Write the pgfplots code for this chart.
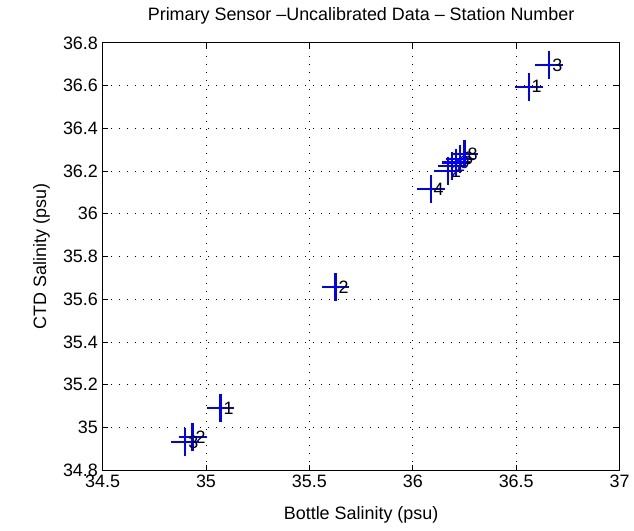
\documentclass[border=0pt]{standalone}
\usepackage{pgfplots}
\pgfplotsset{compat=1.18}
\usepackage{pgfplotstable}
\usepackage{fontspec}
\setmainfont{Liberation Sans}

\pgfplotstableread{
x y label
36.56 36.595 1
36.66 36.695 3
36.086 36.115 4
36.17 36.20 2
36.19 36.225 1
36.21 36.24 0
36.228 36.258 6
36.25 36.28 8
35.626 35.656 2
35.07 35.09 1
34.935 34.955 2
34.90 34.932 3
}\stations

\begin{document}
\begin{tikzpicture}
\begin{axis}[
    width=389.25pt, height=321.75pt,
    scale only axis,
    xmin=34.5, xmax=37,
    ymin=34.8, ymax=36.8,
    xtick={34.5,35,...,37},
    ytick={34.8,35,35.2,35.4,35.6,35.8,36,36.2,36.4,36.6,36.8},
    scaled ticks=false,
    tick align=inside,
    major tick length=4pt,
    axis line style={line width=0.9pt},
    tick style={black, line width=0.6pt},
    grid=major,
    major grid style={black, line width=0.6pt, dash pattern=on 0.6pt off 5.5pt},
    ticklabel style={font=\fontsize{13.5}{15}\selectfont},
    /pgf/number format/assume math mode=true,
    xlabel={Bottle Salinity (psu)},
    ylabel={CTD Salinity (psu)},
    label style={font=\fontsize{13.5}{15}\selectfont},
    title={Primary Sensor –Uncalibrated Data – Station Number},
    title style={font=\fontsize{13.5}{15}\selectfont,
        at={(axis description cs:0.5,1)}, anchor=center, yshift=14pt},
    xlabel style={at={(axis description cs:0.5,0)}, anchor=center, yshift=-33.75pt},
    ylabel style={at={(axis description cs:0,0.5)}, anchor=center, yshift=46pt},
    point meta=explicit symbolic,
    nodes near coords,
    every node near coord/.style={anchor=west, inner sep=0pt, xshift=1.5pt,
        font=\fontsize{13.5}{15}\selectfont, text=black},
]
\addplot[only marks, blue, mark=+, mark size=10.5pt,
    mark options={line width=1.6pt}] table[x=x, y=y, meta=label] {\stations};
\end{axis}
\path ([shift={(-77.25pt,-45.75pt)}]current axis.south west) rectangle ([shift={(9pt,32.25pt)}]current axis.north east);
\end{tikzpicture}
\end{document}
